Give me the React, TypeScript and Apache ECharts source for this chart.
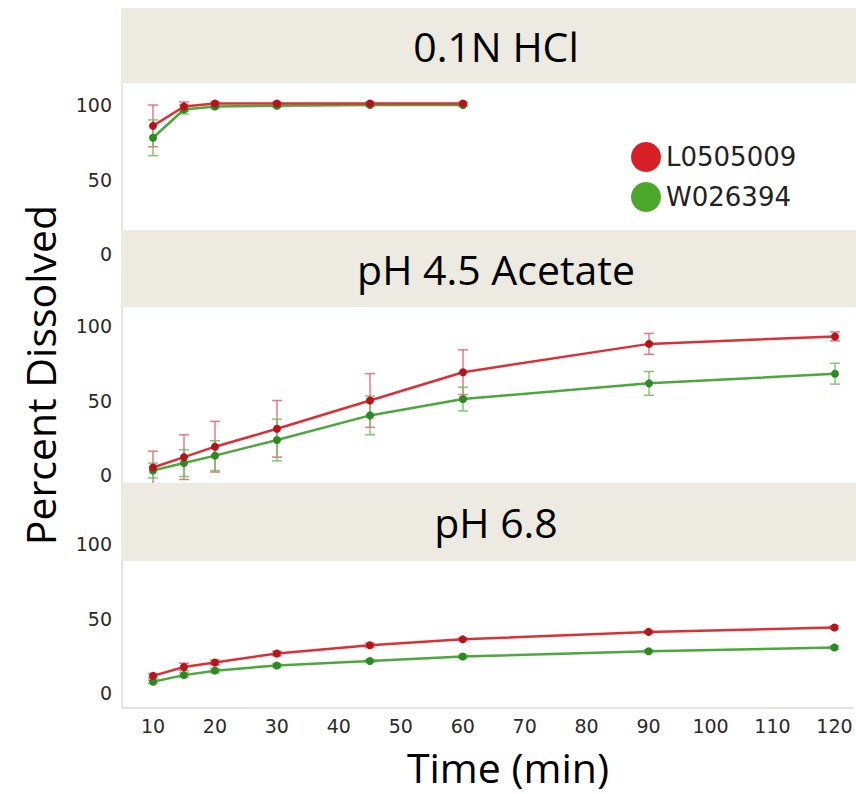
import React, { useEffect, useRef } from "react";
import * as echarts from "echarts";

// ---- data ----
const seriesNames = ["L0505009", "W026394"];
const panelTitles = ["0.1N HCl", "pH 4.5 Acetate", "pH 6.8"];
const yTickLabels = [0, 50, 100];
const xTickLabels = [10, 20, 30, 40, 50, 60, 70, 80, 90, 100, 110, 120];

const hclTimes = [10, 15, 20, 30, 45, 60];
const hclRef = [86, 99, 101, 101, 101, 101];
const hclRefSd = [14, 3, 1, 1, 1, 1];
const hclTest = [78, 97, 99, 99.5, 100, 100];
const hclTestSd = [12, 3, 1, 1, 1, 1];

const times = [10, 15, 20, 30, 45, 60, 90, 120];
const acetateRef = [5, 12, 19, 31, 50, 69, 88, 93];
const acetateRefSd = [11, 15, 17, 19, 18, 15, 7, 3];
const acetateTest = [3, 8, 13, 23.5, 40, 51, 61.5, 68];
const acetateTestSd = [5, 9, 10, 14, 13, 8, 8, 7];

const ph68Ref = [11.5, 17.5, 20.5, 26.5, 32, 36, 41, 44];
const ph68RefSd = [1.5, 2.5, 1.5, 1.5, 1.5, 1, 1, 1];
const ph68Test = [7.5, 12, 15, 18.5, 21.5, 24.5, 28, 30.5];
const ph68TestSd = [1, 1.5, 1.5, 1, 1, 1, 1, 1];

const panels = [
  { t: hclTimes, ref: hclRef, refSd: hclRefSd, test: hclTest, testSd: hclTestSd },
  { t: times, ref: acetateRef, refSd: acetateRefSd, test: acetateTest, testSd: acetateTestSd },
  { t: times, ref: ph68Ref, refSd: ph68RefSd, test: ph68Test, testSd: ph68TestSd },
];

// ---- layout ----
const PX_PER_UNIT = 1.49;
const X_MIN = 5;
const X_MAX = 123;
const X_PX = 6.2;
const GRID_LEFT = 122;
const headers = [
  { top: 8, bottom: 83 },
  { top: 230, bottom: 307 },
  { top: 483, bottom: 561 },
];
const panelLayout = [
  { top: 84, zeroY: 254 },
  { top: 307, zeroY: 475 },
  { top: 483, zeroY: 693 },
];

const RED_LINE = "#dc2f36";
const RED_MARK = "#b3141d";
const RED_ERR = "rgba(226,100,108,0.85)";
const GREEN_LINE = "#4aa83c";
const GREEN_MARK = "#2d8a22";
const GREEN_ERR = "rgba(110,190,95,0.85)";
const HEADER_BG = "#eceae1";
const AXIS_COLOR = "#dcdcdc";
const LABEL_FONT = "DejaVu Sans";
const TITLE_FONT = "Open Sans";

function errRender(color: string) {
  return (params: any, api: any) => {
    const x = api.value(0);
    const lo = api.value(1);
    const hi = api.value(2);
    const pLo = api.coord([x, lo]);
    const pHi = api.coord([x, hi]);
    const w = 5;
    const style = { stroke: color, lineWidth: 1.5 };
    return {
      type: "group",
      children: [
        { type: "line", shape: { x1: pLo[0], y1: pLo[1], x2: pHi[0], y2: pHi[1] }, style },
        { type: "line", shape: { x1: pLo[0] - w, y1: pLo[1], x2: pLo[0] + w, y2: pLo[1] }, style },
        { type: "line", shape: { x1: pHi[0] - w, y1: pHi[1], x2: pHi[0] + w, y2: pHi[1] }, style },
      ],
    };
  };
}

export default function App() {
  const ref = useRef<HTMLDivElement>(null);
  useEffect(() => {
    if (!ref.current) return;
    const chart = echarts.init(ref.current, null, { renderer: "svg" });

    const grids: any[] = [];
    const xAxes: any[] = [];
    const yAxes: any[] = [];
    const series: any[] = [];

    panelLayout.forEach((p, i) => {
      const bottomY = p.zeroY + 10 * PX_PER_UNIT;
      const height = bottomY - p.top;
      const yMax = (p.zeroY - p.top) / PX_PER_UNIT;
      grids.push({
        left: GRID_LEFT,
        top: p.top,
        width: (X_MAX - X_MIN) * X_PX,
        height,
        containLabel: false,
      });
      const isLast = i === panelLayout.length - 1;
      xAxes.push({
        type: "value",
        gridIndex: i,
        min: X_MIN,
        max: X_MAX,
        interval: 5,
        show: true,
        axisLine: { show: isLast, onZero: false, lineStyle: { color: AXIS_COLOR, width: 1.5 } },
        axisTick: { show: false },
        splitLine: { show: false },
        axisLabel: {
          show: isLast,
          margin: 9,
          color: "#2a2a2a",
          fontFamily: LABEL_FONT,
          fontSize: 19,
          formatter: (v: number) => (xTickLabels.indexOf(v) >= 0 ? String(v) : ""),
        },
      });
      yAxes.push({
        type: "value",
        gridIndex: i,
        min: -10,
        max: yMax,
        interval: 10,
        axisLine: { show: true, onZero: false, lineStyle: { color: AXIS_COLOR, width: 1.5 } },
        axisTick: { show: false },
        splitLine: { show: false },
        axisLabel: {
          margin: 10,
          color: "#2a2a2a",
          fontFamily: LABEL_FONT,
          fontSize: 19,
          formatter: (v: number) => (yTickLabels.indexOf(v) >= 0 ? String(v) : ""),
        },
      });

      const d = panels[i];
      series.push({
        type: "custom",
        xAxisIndex: i,
        yAxisIndex: i,
        z: 1,
        renderItem: errRender(RED_ERR),
        encode: { x: 0, y: [1, 2] },
        data: d.t.map((t, k) => [t, d.ref[k] - d.refSd[k], d.ref[k] + d.refSd[k]]),
        silent: true,
      });
      series.push({
        type: "custom",
        xAxisIndex: i,
        yAxisIndex: i,
        z: 1,
        renderItem: errRender(GREEN_ERR),
        encode: { x: 0, y: [1, 2] },
        data: d.t.map((t, k) => [t, d.test[k] - d.testSd[k], d.test[k] + d.testSd[k]]),
        silent: true,
      });
      series.push({
        name: seriesNames[0],
        type: "line",
        xAxisIndex: i,
        yAxisIndex: i,
        z: 3,
        symbol: "circle",
        symbolSize: 8,
        lineStyle: { color: RED_LINE, width: 2.5 },
        itemStyle: { color: RED_MARK },
        data: d.t.map((t, k) => [t, d.ref[k]]),
      });
      series.push({
        name: seriesNames[1],
        type: "line",
        xAxisIndex: i,
        yAxisIndex: i,
        z: 2,
        symbol: "circle",
        symbolSize: 8,
        lineStyle: { color: GREEN_LINE, width: 2.5 },
        itemStyle: { color: GREEN_MARK },
        data: d.t.map((t, k) => [t, d.test[k]]),
      });
    });

    const graphics: any[] = [];
    headers.forEach((h, i) => {
      graphics.push({
        type: "rect",
        z: 100,
        shape: { x: 121, y: h.top, width: 760, height: h.bottom - h.top },
        style: { fill: HEADER_BG },
      });
      graphics.push({
        type: "text",
        z: 101,
        x: 496,
        y: (h.top + h.bottom) / 2,
        style: {
          text: panelTitles[i],
          fill: "#000",
          fontFamily: TITLE_FONT,
          fontSize: 41,
          align: "center",
          verticalAlign: "middle",
        },
      });
    });
    graphics.push({
      type: "text",
      z: 101,
      x: 40,
      y: 375,
      rotation: Math.PI / 2,
      style: {
        text: "Percent Dissolved",
        fill: "#000",
        fontFamily: TITLE_FONT,
        fontSize: 41,
        align: "center",
        verticalAlign: "middle",
      },
    });
    graphics.push({
      type: "text",
      z: 101,
      x: 508,
      y: 767,
      style: {
        text: "Time (min)",
        fill: "#000",
        fontFamily: TITLE_FONT,
        fontSize: 41,
        lineHeight: 44,
        align: "center",
        verticalAlign: "middle",
      },
    });

    chart.setOption({
      animation: false,
      backgroundColor: "#ffffff",
      grid: grids,
      xAxis: xAxes,
      yAxis: yAxes,
      series,
      legend: {
        orient: "vertical",
        left: 626,
        top: 137,
        itemWidth: 30,
        itemHeight: 30,
        itemGap: 10,
        selectedMode: false,
        textStyle: { fontFamily: LABEL_FONT, fontSize: 26, color: "#222" },
        data: [
          { name: seriesNames[0], icon: "circle", itemStyle: { color: "#d71f26" } },
          { name: seriesNames[1], icon: "circle", itemStyle: { color: "#4ba82c" } },
        ],
      },
      graphic: graphics,
    });
    return () => chart.dispose();
  }, []);
  return (
    <div
      ref={ref}
      style={{ position: "fixed", left: 0, top: 0, width: 856, height: 794, background: "#fff" }}
    />
  );
}
